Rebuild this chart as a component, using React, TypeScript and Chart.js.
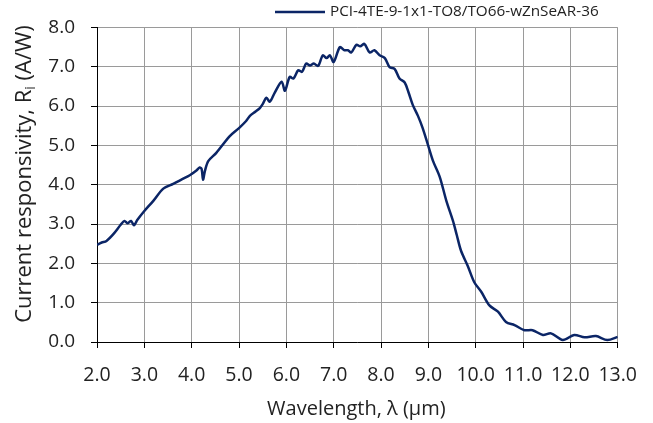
import React, { useEffect, useRef } from "react";
import { Chart, registerables } from "chart.js";

Chart.register(...registerables);

const seriesLabel = "PCI-4TE-9-1x1-TO8/TO66-wZnSeAR-36";
const xTitle = "Wavelength, λ (µm)";
const yTitleMain = "Current responsivity, R";
const yTitleSub = "i";
const yTitleEnd = " (A/W)";

const wavelength = [
  2.0, 2.1, 2.2, 2.35, 2.5, 2.58, 2.65, 2.72, 2.78, 2.85, 3.0, 3.19, 3.4, 3.61, 3.8, 3.96,
  4.1, 4.17, 4.21, 4.24, 4.28, 4.35, 4.52, 4.8, 5.0, 5.15, 5.23, 5.35, 5.44, 5.5, 5.58,
  5.65, 5.75, 5.9, 5.97, 6.07, 6.15, 6.25, 6.33, 6.42, 6.5, 6.58, 6.67, 6.77, 6.85, 6.92,
  7.0, 7.13, 7.22, 7.3, 7.37, 7.48, 7.56, 7.65, 7.76, 7.86, 7.97, 8.08, 8.18, 8.29, 8.39,
  8.5, 8.58, 8.67, 8.78, 8.88, 8.99, 9.1, 9.24, 9.38, 9.52, 9.6, 9.69, 9.83, 9.97, 10.12,
  10.29, 10.47, 10.64, 10.82, 11.03, 11.2, 11.42, 11.59, 11.84, 12.08, 12.3, 12.54, 12.78, 13.0,
];
const responsivity = [
  2.47, 2.53, 2.57, 2.75, 2.98, 3.08, 3.02, 3.08, 2.97, 3.1, 3.33, 3.59, 3.9, 4.02, 4.14, 4.24,
  4.36, 4.44, 4.4, 4.13, 4.35, 4.6, 4.81, 5.23, 5.44, 5.62, 5.75, 5.86, 5.95, 6.05, 6.21,
  6.11, 6.33, 6.62, 6.39, 6.74, 6.7, 6.91, 6.87, 7.08, 7.03, 7.08, 7.02, 7.29, 7.22, 7.29,
  7.12, 7.5, 7.42, 7.42, 7.36, 7.56, 7.52, 7.58, 7.36, 7.42, 7.29, 7.22, 6.99, 6.94, 6.7,
  6.6, 6.35, 6.03, 5.75, 5.44, 5.02, 4.6, 4.2, 3.59, 3.08, 2.72, 2.32, 1.94, 1.52, 1.27,
  0.93, 0.77, 0.51, 0.43, 0.3, 0.3, 0.18, 0.22, 0.05, 0.18, 0.12, 0.15, 0.05, 0.13,
];

const FONT = "'Open Sans', sans-serif";
const LINE_COLOR = "#0B2566";
const TEXT_COLOR = "#222222";

const textPlugin = {
  id: "customText",
  afterDraw(chart: any) {
    const ctx = chart.ctx as CanvasRenderingContext2D;
    const area = chart.chartArea;
    ctx.save();
    // legend
    ctx.strokeStyle = LINE_COLOR;
    ctx.lineWidth = 2.5;
    ctx.beginPath();
    ctx.moveTo(275, 12);
    ctx.lineTo(325, 12);
    ctx.stroke();
    ctx.fillStyle = TEXT_COLOR;
    ctx.font = `15.3px ${FONT}`;
    ctx.textAlign = "left";
    ctx.textBaseline = "middle";
    ctx.fillText(seriesLabel, 330, 12);

    // x title
    ctx.font = `20px ${FONT}`;
    ctx.textAlign = "center";
    ctx.textBaseline = "middle";
    ctx.fillText(xTitle, (area.left + area.right) / 2 - 1, 409);

    // y title with subscript
    ctx.translate(25, 174);
    ctx.rotate(-Math.PI / 2);
    const mainFont = `22px ${FONT}`;
    const subFont = `14px ${FONT}`;
    ctx.font = mainFont;
    const w1 = ctx.measureText(yTitleMain).width;
    const w3 = ctx.measureText(yTitleEnd).width;
    ctx.font = subFont;
    const w2 = ctx.measureText(yTitleSub).width;
    const total = w1 + w2 + w3;
    let x = -total / 2;
    ctx.textAlign = "left";
    ctx.textBaseline = "middle";
    ctx.font = mainFont;
    ctx.fillText(yTitleMain, x, 0);
    x += w1;
    ctx.font = subFont;
    ctx.fillText(yTitleSub, x, 6);
    x += w2;
    ctx.font = mainFont;
    ctx.fillText(yTitleEnd, x, 0);
    ctx.restore();
  },
};

export default function App() {
  const canvasRef = useRef<HTMLCanvasElement | null>(null);

  useEffect(() => {
    document.body.style.margin = "0";
    const canvas = canvasRef.current;
    if (!canvas) return;
    const points = wavelength.map((w, i) => ({ x: w, y: responsivity[i] }));
    const chart = new Chart(canvas, {
      type: "line",
      data: {
        datasets: [
          {
            label: seriesLabel,
            data: points,
            borderColor: LINE_COLOR,
            backgroundColor: LINE_COLOR,
            borderWidth: 2.5,
            pointRadius: 0,
            tension: 0.3,
          },
        ],
      },
      options: {
        responsive: false,
        animation: false,
        devicePixelRatio: 1,
        layout: { padding: { left: 0, right: 35, top: 25, bottom: 0 } },
        plugins: {
          legend: { display: false },
          tooltip: { enabled: false },
        },
        scales: {
          x: {
            type: "linear",
            min: 2,
            max: 13,
            afterFit: (s: any) => {
              s.height = 81;
            },
            ticks: {
              stepSize: 1,
              autoSkip: false,
              maxRotation: 0,
              padding: 16,
              color: TEXT_COLOR,
              font: { family: FONT, size: 19.5 },
              callback: (v: any) => Number(v).toFixed(1),
            },
            grid: {
              color: "#9a9a9a",
              lineWidth: 1,
              tickColor: "#000000",
              tickLength: 6,
              drawTicks: true,
            },
            border: { color: "#000000", width: 1 },
          },
          y: {
            type: "linear",
            min: 0,
            max: 8,
            afterFit: (s: any) => {
              s.width = 97;
            },
            ticks: {
              stepSize: 1,
              padding: 16,
              color: TEXT_COLOR,
              font: { family: FONT, size: 19 },
              callback: (v: any) => Number(v).toFixed(1),
            },
            grid: {
              color: "#9a9a9a",
              lineWidth: 1,
              tickColor: "#000000",
              tickLength: 6,
            },
            border: { color: "#000000", width: 1 },
          },
        },
      },
      plugins: [textPlugin],
    });
    return () => chart.destroy();
  }, []);

  return (
    <div style={{ position: "absolute", left: 0, top: 0, width: 653, height: 423, background: "#fff" }}>
      <canvas ref={canvasRef} width={653} height={423} />
    </div>
  );
}
